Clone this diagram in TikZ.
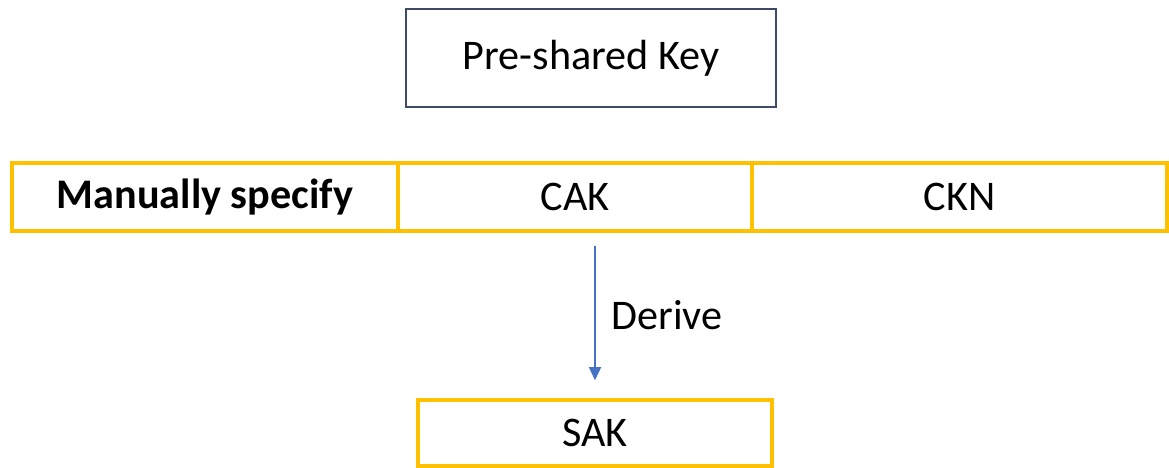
\documentclass[tikz,border=0pt]{standalone}
\usepackage{fontspec}
\setmainfont{Carlito}
\usepackage{tikz}
\usetikzlibrary{arrows.meta,calc}
\definecolor{keyedge}{HTML}{3E4B66}
\definecolor{cellyel}{HTML}{FFC000}
\definecolor{drvblue}{HTML}{4472C4}
\tikzset{
  >={Triangle[length=2.6mm,width=2.4mm]},
  pk/.style={rectangle,draw=keyedge,line width=1.2pt,minimum width=7.4cm,minimum height=1.96cm,font=\fontsize{24}{28}\selectfont},
  cell/.style={rectangle,draw=cellyel,line width=2pt,minimum height=1.36cm,inner sep=0pt,font=\fontsize{24}{28}\selectfont},
  lbl/.style={font=\fontsize{24}{28}\selectfont},
  every picture/.style={line width=0.5pt},
}
\begin{document}
\begin{tikzpicture}
\useasboundingbox (0,0) rectangle (23.38,-9.36);
\node[pk] (PSK) at (11.82,-1.16) {Pre-shared Key};
\node[cell,minimum width=7.72cm] (MS) at (4.10,-3.94) {\textbf{Manually specify}};
\node[cell,minimum width=7.08cm] (CAK) at (11.50,-3.94) {CAK};
\node[cell,minimum width=8.30cm] (CKN) at (19.19,-3.94) {CKN};
\node[cell,minimum width=7.08cm,minimum height=1.32cm] (SAK) at (11.90,-8.66) {SAK};
\draw[->,drvblue,line width=0.8pt,shorten <=0.26cm,shorten >=0.36cm] (CAK.south -| SAK.north) -- (SAK.north)
  node[lbl,midway,right=0.2cm,text=black] (DRV) {Derive};
\end{tikzpicture}
\end{document}
